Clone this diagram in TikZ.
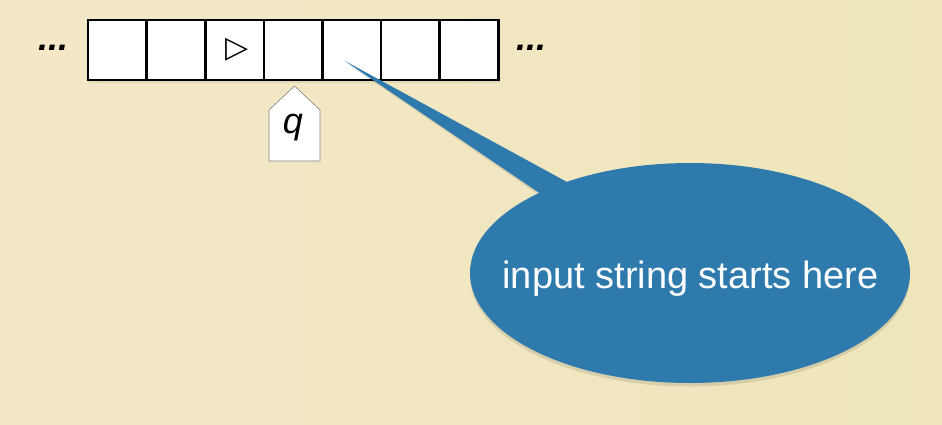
\documentclass[tikz,border=0pt]{standalone}
\usepackage{fontspec}
\setmainfont{Liberation Sans}
\newfontfamily\dejavu{DejaVu Sans}
\usetikzlibrary{shapes.geometric}
\definecolor{bgA}{RGB}{243,231,200}
\definecolor{bgB}{RGB}{238,230,186}
\definecolor{bubblue}{RGB}{46,122,173}
\definecolor{headgray}{RGB}{130,130,130}
\begin{document}
\begin{tikzpicture}[x=1pt,y=-1pt,
  cell/.style={draw=black,line width=2.6pt,fill=white,minimum width=58.6pt,minimum height=60pt,inner sep=0pt,outer sep=0pt},
  tapedots/.style={font=\fontsize{36}{36}\selectfont\bfseries\itshape,inner sep=0pt,anchor=base west},
  headbox/.style={draw=headgray,line width=0.6pt,fill=white},
  headlabel/.style={font=\fontsize{36}{36}\selectfont\itshape,inner sep=0pt,anchor=base},
  bubble/.style={fill=bubblue},
  bubtext/.style={font=\fontsize{38}{38}\selectfont,text=white,inner sep=0pt,anchor=base},
  softshadow/.style={fill=black,opacity=0.10}]
\fill[left color=bgA,right color=bgB] (0,0) rectangle (942,424);
\useasboundingbox (0,0) rectangle (942,424);
% tape shadow
\fill[softshadow,opacity=0.06] (89,22) rectangle (500,82.5);
% tape cells
\foreach \i in {1,...,7}{
  \node[cell] (c\i) at ({88+58.6*(\i-0.5)},50) {};
}
\node[font=\dejavu\fontsize{30}{30}\selectfont,inner sep=0pt] (start) at (237.5,50) {▷};
% dots
\node[tapedots] (dl) at (38,50) {...};
\node[tapedots] (dr) at (516,50) {...};
% head
\draw[headbox] (269,161) -- (269,110) -- (294.5,86) -- (320,110) -- (320,161) -- cycle;
\node[headlabel] (q) at (293,133) {q};
% callout shadow
\fill[softshadow] (346,63) -- (601,203) -- (561,210) -- cycle;
\fill[softshadow] (690,276.5) ellipse [x radius=220, y radius=110];
% callout
\coordinate (tip) at (345,61);
\node[bubble,ellipse,minimum width=440pt,minimum height=220pt,inner sep=0pt] (bub) at (690,273) {};
\fill[bubble] (tip) -- (600,200) -- (560,207) -- cycle;
\node[bubtext] (lbl) at (690.5,288) {input string starts here};
\end{tikzpicture}
\end{document}
